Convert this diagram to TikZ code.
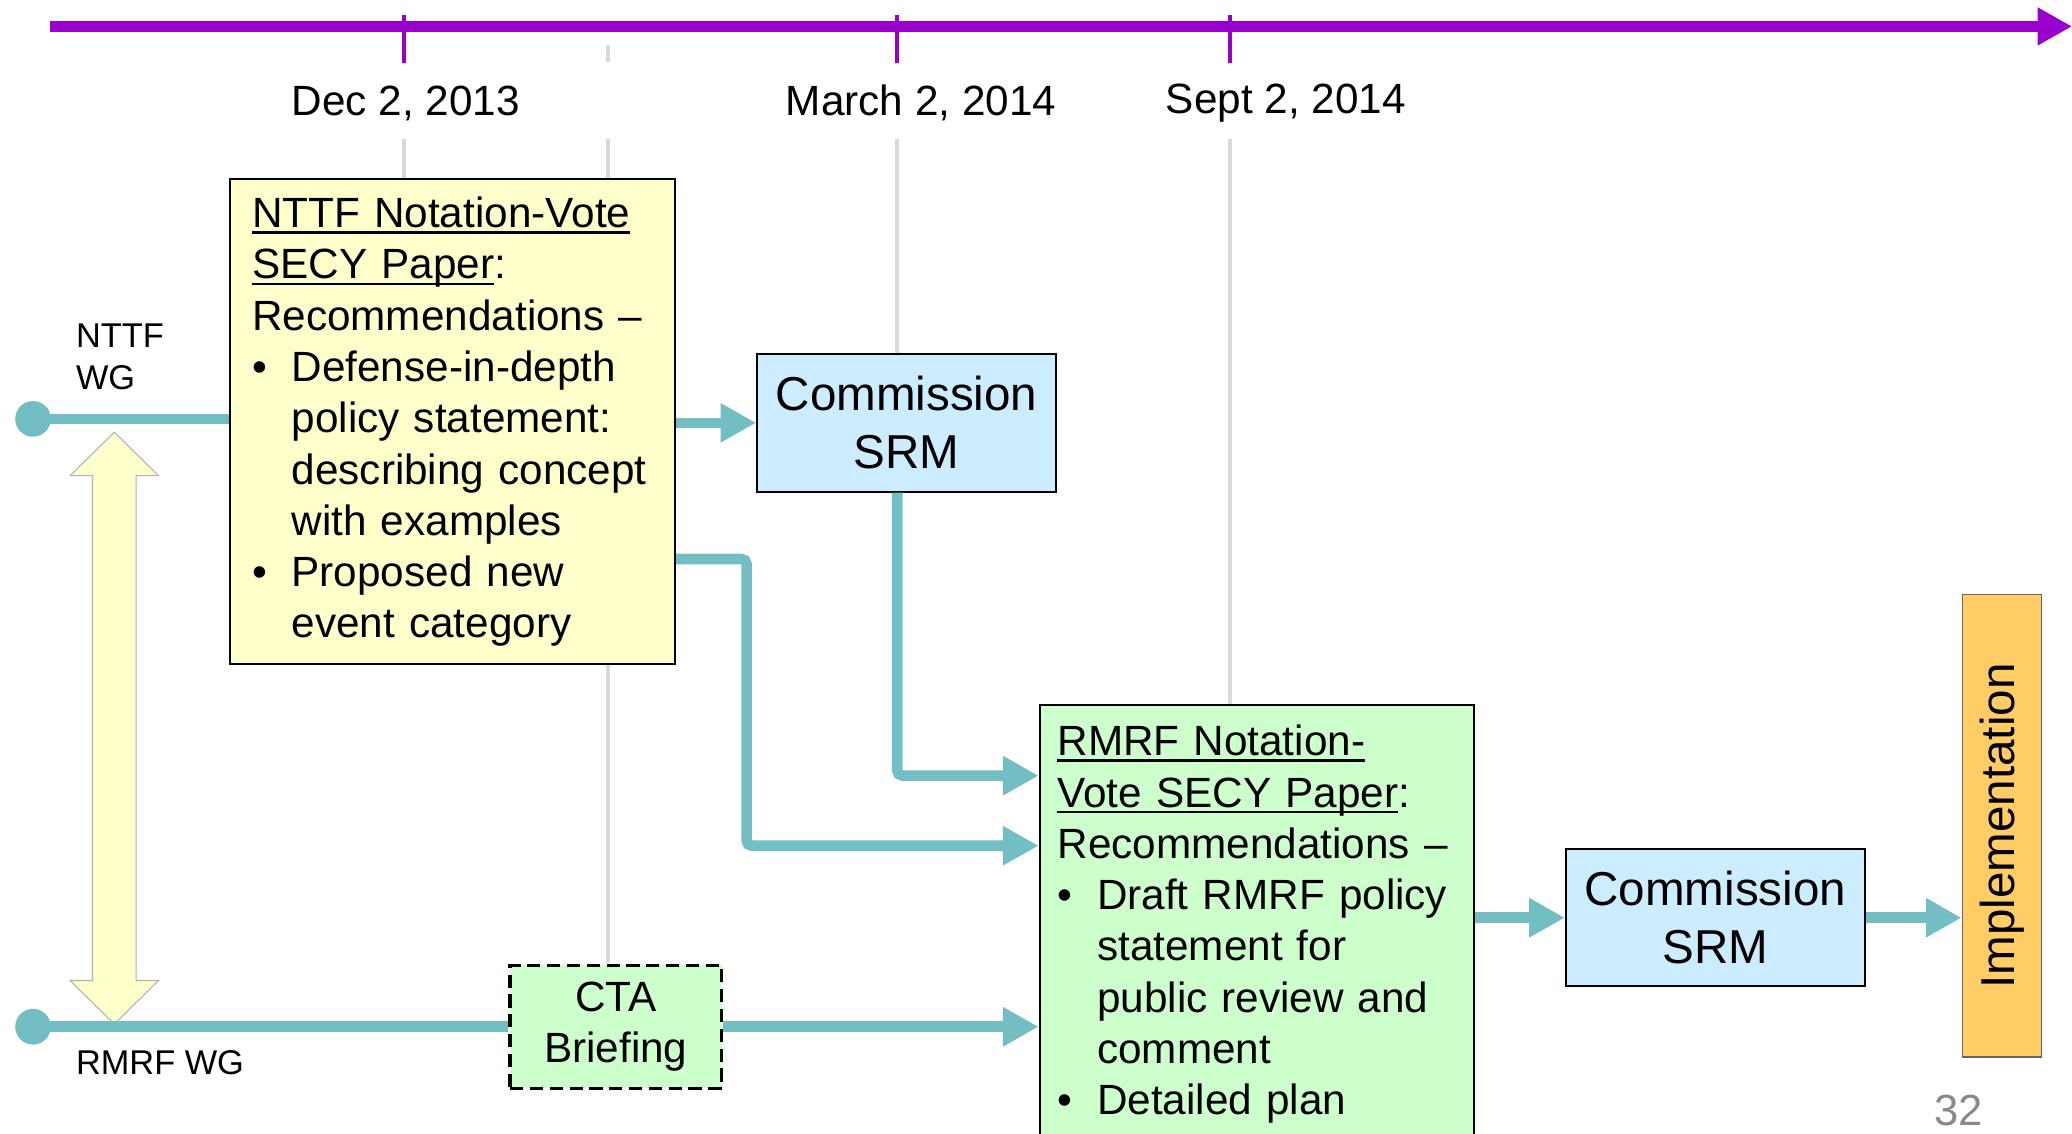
\documentclass[tikz,border=0pt]{standalone}
\usepackage{fontspec}
\setmainfont{Liberation Sans}
\usepackage{graphicx}
\usepackage{tikz}
\usetikzlibrary{arrows.meta,positioning}
\definecolor{tlpurple}{RGB}{153,0,204}
\definecolor{guidegray}{RGB}{217,217,217}
\definecolor{flowteal}{RGB}{115,190,195}
\definecolor{paleyellow}{RGB}{255,255,204}
\definecolor{paleblue}{RGB}{204,236,255}
\definecolor{palegreen}{RGB}{204,255,204}
\definecolor{implorange}{RGB}{255,204,102}
\definecolor{pagegray}{RGB}{137,137,137}
\newcommand{\bul}{\makebox[30pt][l]{\textbullet}}
\newcommand{\bulpad}{\hspace*{30pt}}
\newcommand{\uln}[1]{\leavevmode\setbox0\hbox{#1}\rlap{\rule[-4.5pt]{\wd0}{1.7pt}}\box0}

\begin{document}
\begin{tikzpicture}[x=1pt,y=-1pt,
  box/.style={rectangle,draw=black,line width=1.5pt,inner sep=0pt},
  paper/.style={box,anchor=north west,align=left,inner ysep=13pt,
                font=\fontsize{32}{38.8}\selectfont},
  srm/.style={box,fill=paleblue,minimum width=226pt,minimum height=104pt,align=center,
              font=\fontsize{36}{44}\selectfont},
  flow/.style={draw=flowteal,line width=8pt,-{Triangle[length=27pt,width=28pt]}},
  link/.style={draw=flowteal,line width=8pt},
  timeline/.style={draw=tlpurple,line width=8pt,-{Triangle[length=26pt,width=27pt]}},
  guide/.style={draw=guidegray,line width=3pt},
  tick/.style={draw=tlpurple,line width=3pt},
  date/.style={font=\fontsize{32}{38}\selectfont},
  wg/.style={font=\fontsize{26}{32}\selectfont,align=left,anchor=west},
  dot/.style={circle,fill=flowteal,minimum size=27pt,inner sep=0pt}
]
\useasboundingbox (0,0) rectangle (1568,858);
\clip (0,0) rectangle (1568,858);

\foreach \x/\ytop/\ybot in {306/105/135,460/105/729,679/105/268,931/105/533}
  \draw[guide] (\x,\ytop) -- (\x,\ybot);
\draw[guide] (460,34) -- (460,47);
\draw[timeline] (38,20) -- (1568,20);
\foreach \x in {306,679,931}
  \draw[tick] (\x,11) -- (\x,48);

\node[date] (dec) at (307,78) {Dec 2, 2013};
\node[date] (mar) at (697,78) {March 2, 2014};
\node[date] (sep) at (973,78) {Sept 2, 2014};

\node[wg] (nttfwg) at (54,270) {NTTF\\WG};
\node[wg] (rmrfwg) at (54,804) {RMRF WG};
\node[dot] (nttfdot) at (25,317) {};
\node[dot] (rmrfdot) at (25,777) {};

\draw[draw=black!30,fill=paleyellow,line width=0.8pt]
  (70,360) -- (53,360) -- (86.5,327) -- (120,360) -- (103,360) -- (103,742)
  -- (120,742) -- (86.5,775) -- (53,742) -- (70,742) -- cycle;

\node[paper,fill=paleyellow,text width=303pt,inner xsep=17pt,minimum height=367pt] (nttf) at (173,135)
  {\uln{NTTF Notation-Vote}\\
   \uln{SECY Paper}:\\
   Recommendations –\\
   \bul Defense-in-depth\\
   \bulpad policy statement:\\
   \bulpad describing concept\\
   \bulpad with examples\\
   \bul Proposed new\\
   \bulpad event category};
\node[srm] (srmone) at (686,320) {Commission\\SRM};
\node[paper,fill=palegreen,text width=302pt,inner xsep=13.5pt,inner ysep=15pt] (rmrf) at (786,533)
  {\uln{RMRF Notation-}\\
   \uln{Vote SECY Paper}:\\
   Recommendations –\\
   \bul Draft RMRF policy\\
   \bulpad statement for\\
   \bulpad public review and\\
   \bulpad comment\\
   \bul Detailed plan};
\node[box,fill=palegreen,dash pattern=on 10pt off 5pt,line width=2.5pt,
      minimum width=160pt,minimum height=93pt,align=center,
      font=\fontsize{32}{39}\selectfont] (cta) at (466,777) {CTA\\Briefing};
\node[srm] (srmtwo) at (1298,694.5) {Commission\\SRM};
\node[box,fill=implorange,draw=black!60,line width=1.2pt,minimum width=60pt,
      minimum height=350pt,font=\fontsize{36}{44}\selectfont] (impl) at (1515,625)
  {\rotatebox{90}{Implementation}};
\node[font=\fontsize{33}{40}\selectfont,text=pagegray] (page) at (1482,840) {32};

\draw[link] (nttfdot.center) -- (nttfdot.center -| nttf.west);
\draw[flow] (nttf.east |- srmone.west) -- (srmone.west);
\draw[flow,rounded corners=4pt] (nttf.east |- 0,423) -| (565,640) -- (rmrf.west |- 0,640);
\draw[flow,rounded corners=4pt] ([xshift=-7pt]srmone.south) |- (rmrf.west |- 0,587);
\draw[link] (rmrfdot.center) -- (cta.west);
\draw[flow] (cta.east) -- (rmrf.west |- cta.east);
\draw[flow] (rmrf.east |- srmtwo.west) -- (srmtwo.west);
\draw[flow] (srmtwo.east) -- (srmtwo.east -| impl.west);
\end{tikzpicture}
\end{document}
